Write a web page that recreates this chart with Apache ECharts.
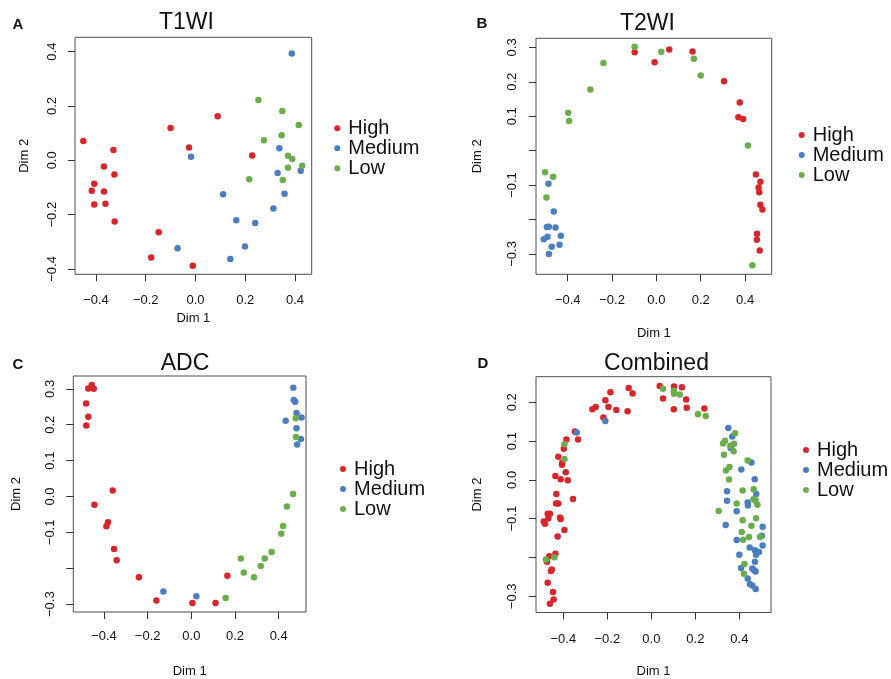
<!DOCTYPE html>
<html>
<head>
<meta charset="utf-8">
<script src="https://cdn.jsdelivr.net/npm/echarts@6/dist/echarts.min.js"></script>
<style>
html,body{margin:0;padding:0;background:#fff;}
#chart{width:891px;height:679px;}
</style>
</head>
<body>
<div id="chart"></div>
<script>
// ---------- DATA ----------
var groups = ['High', 'Medium', 'Low'];

// Panel A: T1WI
var t1wiHigh = [[-0.451,0.071],[-0.330,0.038],[-0.368,-0.023],[-0.326,-0.052],[-0.407,-0.086],[-0.417,-0.112],[-0.368,-0.115],[-0.407,-0.163],[-0.362,-0.160],[-0.325,-0.225],[-0.148,-0.265],[-0.178,-0.358],[-0.011,-0.388],[-0.100,0.119],[-0.026,0.047],[0.089,0.162],[0.228,0.018]];
var t1wiMedium = [[-0.018,0.013],[-0.072,-0.324],[0.111,-0.125],[0.164,-0.221],[0.240,-0.231],[0.140,-0.363],[0.199,-0.317],[0.313,-0.177],[0.358,-0.123],[0.330,-0.047],[0.337,0.044],[0.423,-0.038],[0.387,0.393]];
var t1wiLow = [[0.253,0.222],[0.349,0.182],[0.415,0.130],[0.346,0.092],[0.275,0.074],[0.372,0.017],[0.389,0.005],[0.429,-0.020],[0.372,-0.027],[0.216,-0.070],[0.351,-0.072]];

// Panel B: T2WI
var t2wiHigh = [[-0.098,0.286],[-0.008,0.257],[0.058,0.294],[0.163,0.288],[0.305,0.202],[0.376,0.140],[0.370,0.097],[0.391,0.092],[0.449,-0.069],[0.469,-0.090],[0.461,-0.107],[0.464,-0.121],[0.469,-0.157],[0.478,-0.171],[0.454,-0.241],[0.453,-0.259],[0.466,-0.290]];
var t2wiMedium = [[-0.487,-0.096],[-0.463,-0.177],[-0.494,-0.222],[-0.485,-0.221],[-0.455,-0.223],[-0.431,-0.247],[-0.491,-0.250],[-0.508,-0.257],[-0.472,-0.279],[-0.437,-0.273],[-0.485,-0.300]];
var t2wiLow = [[-0.098,0.302],[0.022,0.287],[-0.239,0.255],[-0.298,0.178],[-0.398,0.110],[-0.394,0.086],[0.169,0.267],[0.200,0.218],[0.413,0.015],[-0.502,-0.063],[-0.466,-0.076],[-0.496,-0.136],[0.433,-0.333]];

// Panel C: ADC
var adcHigh = [[-0.472,0.301],[-0.456,0.311],[-0.447,0.300],[-0.482,0.259],[-0.472,0.222],[-0.481,0.198],[-0.360,0.017],[-0.444,-0.023],[-0.382,-0.072],[-0.389,-0.083],[-0.354,-0.146],[-0.342,-0.178],[-0.240,-0.225],[-0.160,-0.290],[0.005,-0.297],[0.111,-0.297],[0.165,-0.221]];
var adcMedium = [[0.467,0.303],[0.469,0.269],[0.476,0.264],[0.482,0.233],[0.432,0.211],[0.505,0.220],[0.482,0.190],[0.502,0.160],[0.485,0.145],[-0.128,-0.265],[0.023,-0.278]];
var adcLow = [[0.478,0.218],[0.479,0.166],[0.466,0.007],[0.438,-0.028],[0.420,-0.082],[0.412,-0.104],[0.368,-0.155],[0.336,-0.173],[0.227,-0.173],[0.318,-0.194],[0.240,-0.212],[0.287,-0.225],[0.157,-0.283]];

// Panel D: Combined
var combinedHigh = [[-0.461,-0.319],[-0.444,-0.308],[-0.447,-0.289],[-0.471,-0.265],[-0.456,-0.235],[-0.452,-0.231],[-0.474,-0.211],[-0.464,-0.197],[-0.436,-0.190],[-0.426,-0.146],[-0.395,-0.129],[-0.489,-0.107],[-0.483,-0.113],[-0.468,-0.099],[-0.471,-0.087],[-0.461,-0.087],[-0.415,-0.097],[-0.412,-0.101],[-0.433,-0.061],[-0.423,-0.061],[-0.432,-0.036],[-0.356,-0.049],[-0.436,0.010],[-0.412,0.002],[-0.380,-0.001],[-0.389,0.020],[-0.406,0.039],[-0.405,0.045],[-0.423,0.060],[-0.398,0.080],[-0.386,0.104],[-0.348,0.125],[-0.333,0.104],[-0.218,0.161],[-0.268,0.182],[-0.253,0.188],[-0.195,0.188],[-0.209,0.205],[-0.186,0.226],[-0.159,0.180],[-0.108,0.177],[-0.103,0.237],[-0.085,0.223],[0.038,0.242],[0.103,0.241],[0.139,0.239],[0.053,0.210],[0.158,0.207],[0.161,0.186],[0.102,0.182],[0.241,0.184]];
var combinedMedium = [[-0.339,0.122],[-0.209,0.152],[0.350,0.134],[0.368,0.112],[0.361,0.082],[0.455,0.045],[0.409,0.027],[0.470,0.002],[0.344,-0.029],[0.477,-0.036],[0.344,-0.054],[0.438,-0.058],[0.439,-0.066],[0.388,-0.081],[0.506,-0.121],[0.338,-0.116],[0.502,-0.144],[0.388,-0.155],[0.506,-0.169],[0.447,-0.174],[0.471,-0.181],[0.482,-0.186],[0.489,-0.186],[0.476,-0.193],[0.400,-0.193],[0.471,-0.211],[0.408,-0.227],[0.459,-0.228],[0.467,-0.233],[0.474,-0.236],[0.438,-0.254],[0.448,-0.268],[0.459,-0.272],[0.474,-0.281]];
var combinedLow = [[0.053,0.235],[0.102,0.230],[0.103,0.222],[0.129,0.220],[0.212,0.169],[0.247,0.165],[-0.395,0.092],[-0.395,0.054],[-0.479,-0.205],[-0.441,-0.199],[0.380,0.120],[0.335,0.101],[0.326,0.094],[0.376,0.093],[0.359,0.088],[0.374,0.074],[0.330,0.065],[0.438,0.050],[0.355,0.033],[0.339,0.024],[0.353,0.001],[0.415,-0.027],[0.465,-0.024],[0.464,-0.050],[0.474,-0.054],[0.482,-0.064],[0.388,-0.061],[0.306,-0.080],[0.476,-0.099],[0.415,-0.104],[0.455,-0.118],[0.411,-0.134],[0.494,-0.147],[0.444,-0.147],[0.417,-0.154],[0.423,-0.217],[0.421,-0.242]];

// Tick values and tick labels
var xTicks = [-0.4, -0.2, 0, 0.2, 0.4];
var xTickLabels = ['\u22120.4', '\u22120.2', '0.0', '0.2', '0.4'];
var t1wiYTicks = [-0.4, -0.2, 0, 0.2, 0.4];
var t1wiYTickLabels = ['\u22120.4', '\u22120.2', '0.0', '0.2', '0.4'];
var t2wiYTicks = [-0.3, -0.2, -0.1, 0, 0.1, 0.2, 0.3];
var t2wiYTickLabels = ['\u22120.3', '', '\u22120.1', '', '0.1', '0.2', '0.3'];
var adcYTicks = [-0.3, -0.2, -0.1, 0, 0.1, 0.2, 0.3];
var adcYTickLabels = ['\u22120.3', '', '\u22120.1', '0.0', '0.1', '0.2', '0.3'];
var combinedYTicks = [-0.3, -0.2, -0.1, 0, 0.1, 0.2];
var combinedYTickLabels = ['\u22120.3', '', '\u22120.1', '0.0', '0.1', '0.2'];

var panelTitles = ['T1WI', 'T2WI', 'ADC', 'Combined'];
var panelLetters = ['A', 'B', 'C', 'D'];
var axisNameX = 'Dim 1';
var axisNameY = 'Dim 2';

// ---------- LAYOUT / STYLE ----------
var colors = {High: '#d7262b', Medium: '#4a7ebf', Low: '#6aae4c'};
var FONT = 'Liberation Sans, Arial, sans-serif';

var panels = [
  {grid: {left: 75, top: 37.3, width: 236.7, height: 237},
   x: [-0.4844, 0.4671], y: [-0.4196, 0.4529], yTicks: t1wiYTicks, yLabels: t1wiYTickLabels,
   data: [t1wiHigh, t1wiMedium, t1wiLow], xNameGap: 38, yNameGap: 44, xMargin: 20, yMargin: 16,
   title: [186.5, 22.7], letter: [18, 25], legend: [334.3, 118.3]},
  {grid: {left: 536, top: 38.3, width: 235.7, height: 236},
   x: [-0.5431, 0.5201], y: [-0.3591, 0.3264], yTicks: t2wiYTicks, yLabels: t2wiYTickLabels,
   data: [t2wiHigh, t2wiMedium, t2wiLow], xNameGap: 53, yNameGap: 52, xMargin: 20, yMargin: 17,
   title: [647.5, 23.3], letter: [482, 24], legend: [798.7, 125]},
  {grid: {left: 73.3, top: 376, width: 232.7, height: 236.3},
   x: [-0.5406, 0.5252], y: [-0.3219, 0.3358], yTicks: adcYTicks, yLabels: adcYTickLabels,
   data: [adcHigh, adcMedium, adcLow], xNameGap: 53, yNameGap: 50, xMargin: 18, yMargin: 16,
   title: [185, 363.3], letter: [18, 364.5], legend: [340, 459]},
  {grid: {left: 536, top: 376.7, width: 235, height: 236},
   x: [-0.5242, 0.5439], y: [-0.3417, 0.2660], yTicks: combinedYTicks, yLabels: combinedYTickLabels,
   data: [combinedHigh, combinedMedium, combinedLow], xNameGap: 52.5, yNameGap: 52, xMargin: 20, yMargin: 17,
   title: [656.5, 363.7], letter: [483, 363.5], legend: [803, 440]}
];

function lookup(ticks, labels) {
  return function (v) {
    for (var i = 0; i < ticks.length; i++) {
      if (Math.abs(v - ticks[i]) < 1e-9) return labels[i];
    }
    return '';
  };
}

var grid = [], xAxis = [], yAxis = [], series = [], legend = [], graphic = [];
panels.forEach(function (p, i) {
  grid.push(Object.assign({show: true, borderColor: '#4d4d4d', borderWidth: 1, backgroundColor: 'transparent', containLabel: false}, p.grid));
  xAxis.push({
    type: 'value', gridIndex: i, min: p.x[0], max: p.x[1], position: 'bottom',
    name: axisNameX, nameLocation: 'middle', nameGap: p.xNameGap,
    nameTextStyle: {fontFamily: FONT, fontSize: 13, color: '#111'},
    axisLine: {show: false, onZero: false},
    axisTick: {show: true, length: 7, customValues: xTicks, lineStyle: {color: '#333', width: 1}},
    axisLabel: {show: true, customValues: xTicks, formatter: lookup(xTicks, xTickLabels), margin: p.xMargin,
      fontFamily: FONT, fontSize: 13, color: '#111', showMinLabel: true, showMaxLabel: true},
    splitLine: {show: false}
  });
  yAxis.push({
    type: 'value', gridIndex: i, min: p.y[0], max: p.y[1], position: 'left',
    name: axisNameY, nameLocation: 'middle', nameGap: p.yNameGap,
    nameTextStyle: {fontFamily: FONT, fontSize: 13, color: '#111'},
    axisLine: {show: false, onZero: false},
    axisTick: {show: true, length: 7, customValues: p.yTicks, lineStyle: {color: '#333', width: 1}},
    axisLabel: {show: true, customValues: p.yTicks, formatter: lookup(p.yTicks, p.yLabels), rotate: 90, margin: p.yMargin,
      fontFamily: FONT, fontSize: 13, color: '#111', showMinLabel: true, showMaxLabel: true},
    splitLine: {show: false}
  });
  groups.forEach(function (g, k) {
    series.push({
      type: 'scatter', name: g, xAxisIndex: i, yAxisIndex: i,
      data: p.data[k], symbol: 'circle', symbolSize: 6.5,
      itemStyle: {color: colors[g], opacity: 1}, emphasis: {disabled: true}
    });
  });
  legend.push({
    data: groups, orient: 'vertical', left: p.legend[0], top: p.legend[1],
    padding: 0, itemGap: 0, itemWidth: 6, itemHeight: 6, icon: 'circle', selectedMode: false,
    textStyle: {fontFamily: FONT, fontSize: 20, lineHeight: 20, color: '#111', padding: [0, 0, 0, 3]}
  });
  graphic.push({type: 'text', x: p.title[0], y: p.title[1],
    style: {text: panelTitles[i], font: '23px ' + FONT, fill: '#111', textAlign: 'center', textVerticalAlign: 'middle'}});
  graphic.push({type: 'text', x: p.letter[0], y: p.letter[1],
    style: {text: panelLetters[i], font: 'bold 15px ' + FONT, fill: '#111', textAlign: 'center', textVerticalAlign: 'middle'}});
});

var chart = echarts.init(document.getElementById('chart'), null, {renderer: 'canvas'});
chart.setOption({
  animation: false,
  backgroundColor: '#fff',
  color: [colors.High, colors.Medium, colors.Low],
  grid: grid, xAxis: xAxis, yAxis: yAxis, series: series, legend: legend, graphic: graphic
});
</script>
</body>
</html>
